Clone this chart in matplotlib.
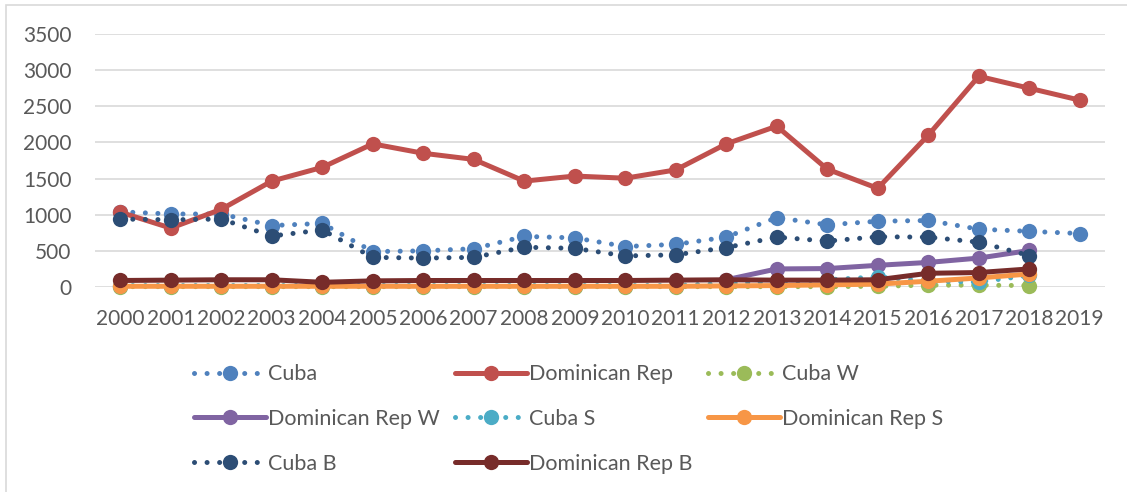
import numpy as np
import matplotlib.pyplot as plt
from matplotlib.patches import Rectangle

nan = np.nan

# Data
years = [str(y) for y in range(2000, 2020)]
cuba = [1040, 1010, 1010, 850, 880, 490, 500, 530, 700, 680,
        560, 590, 690, 960, 860, 910, 920, 800, 770, 740]
dom_rep = [1035, 815, 1075, 1465, 1655, 1980, 1850, 1765, 1465, 1535,
           1505, 1620, 1980, 2225, 1630, 1365, 2100, 2915, 2750, 2585]
cuba_w = [5, 5, 5, 5, 5, 5, 5, 5, 5, 5,
          5, 5, 5, 5, 5, 10, 25, 25, 20, nan]
dom_rep_w = [nan, nan, nan, nan, nan, nan, nan, nan, nan, nan,
             nan, nan, 100, 250, 255, 300, 340, 400, 505, nan]
cuba_s = [20, 20, 20, 20, 20, 20, 20, 20, 20, 20,
          20, 20, 50, 70, 100, 140, 80, 70, 160, nan]
dom_rep_s = [10, 10, 10, 10, 10, 10, 10, 10, 10, 10,
             10, 10, 15, 20, 30, 40, 80, 125, 180, nan]
cuba_b = [940, 930, 940, 705, 790, 410, 400, 410, 550, 535,
          430, 445, 545, 690, 635, 695, 690, 620, 435, nan]
dom_rep_b = [90, 95, 100, 100, 65, 85, 90, 90, 90, 90,
             90, 95, 100, 95, 95, 100, 190, 200, 250, nan]

series = [
    ("Cuba", cuba, "#4F81BD", "dot"),
    ("Dominican Rep", dom_rep, "#C0504D", "solid"),
    ("Cuba W", cuba_w, "#9BBB59", "dot"),
    ("Dominican Rep W", dom_rep_w, "#8064A2", "solid"),
    ("Cuba S", cuba_s, "#4BACC6", "dot"),
    ("Dominican Rep S", dom_rep_s, "#F79646", "solid"),
    ("Cuba B", cuba_b, "#2C4D75", "dot"),
    ("Dominican Rep B", dom_rep_b, "#772C2A", "solid"),
]

plt.rcParams['font.family'] = ['Lato', 'DejaVu Sans']
text_col = "#595959"
grid_col = "#D9D9D9"

fig = plt.figure(figsize=(11.27, 4.92), dpi=100)
ax = fig.add_axes([95 / 1127, 1 - 287 / 492, 1010 / 1127, 253 / 492])

# chart border (only top and left visible in the crop)
fig.patches.append(Rectangle((6 / 1127, -0.05), 1.2, 1 - 5 / 492 + 0.05,
                             transform=fig.transFigure, fill=False,
                             edgecolor=grid_col, lw=1.2))

x = np.arange(len(years))
handles = []
for name, vals, col, style in series:
    if style == "dot":
        ls = (0, (0.01, 2.5))
    else:
        ls = "-"
    h, = ax.plot(x, vals, color=col, lw=3.6, ls=ls, dash_capstyle="round",
                 solid_capstyle="round", marker="o", markersize=11,
                 markeredgewidth=0, label=name, clip_on=False, zorder=3)
    handles.append(h)

ax.set_xlim(-0.5, len(years) - 0.5)
ax.set_ylim(0, 3500)
ax.set_yticks(range(0, 3501, 500))
ax.set_xticks(x)
ax.set_xticklabels(years)
ax.grid(axis="y", color=grid_col, lw=1.2)
ax.set_axisbelow(True)
for s in ax.spines.values():
    s.set_visible(False)
ax.tick_params(axis="both", length=0, labelsize=15, colors=text_col)
ax.tick_params(axis="y", pad=17)
ax.tick_params(axis="x", pad=16)

order = [0, 3, 6, 1, 4, 7, 2, 5]
fs = 15.5
leg = fig.legend([handles[i] for i in order], [handles[i].get_label() for i in order],
                 ncol=3, loc="center left",
                 bbox_to_anchor=((183 - 0.4 * fs * 100 / 72) / 1127, 1 - 419 / 492),
                 frameon=False, fontsize=fs, handlelength=3.35, handletextpad=0.1,
                 columnspacing=0.7, labelspacing=1.15, borderpad=0.4)
for t in leg.get_texts():
    t.set_color(text_col)

fig.savefig("out.png", dpi=100)
